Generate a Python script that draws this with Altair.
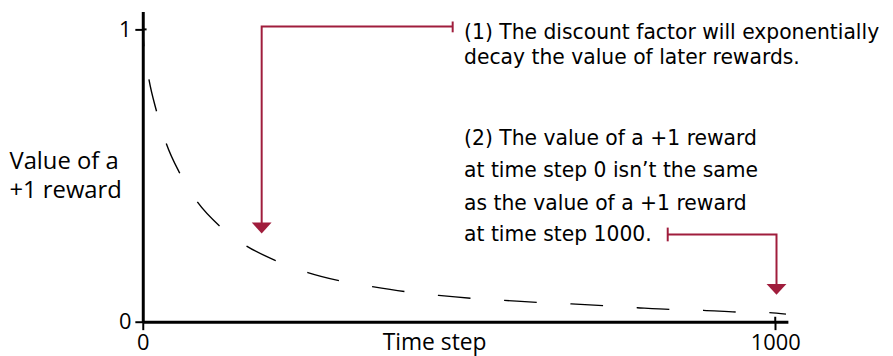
import altair as alt
import pandas as pd

# ---- data ----
time_steps = [0, 1.6, 9.9, 21.9, 37.1, 59, 86.6, 121.7, 164.9, 210.3, 261, 311, 363,
              414.6, 467.8, 519.5, 572, 624.4, 677.7, 728.7, 782, 834, 886.5, 938.6, 991, 1017]
values = [1.0, 0.943, 0.827, 0.719, 0.610, 0.506, 0.409, 0.327, 0.258, 0.209, 0.168, 0.140, 0.120,
          0.103, 0.090, 0.080, 0.073, 0.066, 0.061, 0.055, 0.048, 0.042, 0.039, 0.033, 0.031, 0.026]

x_ticks = [0, 1000]
y_ticks = [0, 1]
x_title = "Time step"
y_title = ["Value of a", "+1 reward"]

note1 = ["(1) The discount factor will exponentially", "decay the value of later rewards."]
note2 = ["(2) The value of a +1 reward", "at time step 0 isn\u2019t the same",
         "as the value of a +1 reward", "at time step 1000."]

RED = "#a01d3c"
FONT = "Open Sans"
NOTE_FONT = "DejaVu Sans"

# ---- tables ----
curve = pd.DataFrame({"t": time_steps, "v": values})

arrows = pd.DataFrame({
    "seg": ["a1", "a1", "a1", "a2", "a2", "a2"],
    "ord": [0, 1, 2, 0, 1, 2],
    "t": [490, 188, 188, 830, 1002, 1002],
    "v": [1.010, 1.010, 0.33, 0.298, 0.298, 0.11],
})
caps = pd.DataFrame({"t": [490, 830], "v": [0.990, 0.275], "v2": [1.027, 0.322]})
heads = pd.DataFrame({"t": [188, 1002], "v": [0.302, 0.092]})
cross = pd.DataFrame({"t": [0, 1000], "v": [1, 0], "t2": [6, 1000], "v2": [1, 0.017]})

text_rows = pd.DataFrame({
    "t": [508] * 6,
    "v": [0.966, 0.881, 0.603, 0.495, 0.383, 0.275],
    "txt": note1 + note2,
})

xscale = alt.Scale(domain=[0, 1020], nice=False, zero=False)
yscale = alt.Scale(domain=[0, 1.061], nice=False, zero=False)

xaxis = alt.Axis(values=x_ticks, format="d", title=x_title, grid=False,
                 domainColor="black", domainWidth=3, tickColor="black", tickWidth=2, tickSize=8,
                 labelFont=FONT, labelFontSize=22, labelColor="black", labelPadding=3,
                 labelFlush=False, titleFont=FONT, titleFontSize=23, titleFontWeight="normal",
                 titleColor="black", titleX=294, titleY=28, titleBaseline="alphabetic",
                 titleAlign="center")
yaxis = alt.Axis(values=y_ticks, format="d", title=y_title, grid=False,
                 domainColor="black", domainWidth=3, tickColor="black", tickWidth=2, tickSize=8,
                 labelFont=FONT, labelFontSize=22, labelColor="black", labelPadding=4,
                 labelFlush=False, titleFont=FONT, titleFontSize=24, titleFontWeight="normal",
                 titleColor="black", titleAngle=0, titleAlign="left", titleBaseline="alphabetic",
                 titleX=-135, titleY=158, titleLineHeight=30)


def X(field="t"):
    return alt.X(f"{field}:Q", scale=xscale, axis=xaxis)


def Y(field="v"):
    return alt.Y(f"{field}:Q", scale=yscale, axis=yaxis)


line = alt.Chart(curve).mark_line(
    color="black", strokeWidth=1.4, strokeDash=[33, 34], strokeDashOffset=16,
    interpolate="monotone"
).encode(x=X(), y=Y())

arrow_lines = alt.Chart(arrows).mark_line(color=RED, strokeWidth=2, strokeCap="butt").encode(
    x=X(), y=Y(), detail="seg:N", order="ord:Q")

arrow_caps = alt.Chart(caps).mark_rule(color=RED, strokeWidth=2).encode(
    x=X(), y=Y(), y2=alt.Y2("v2:Q"))

arrow_heads = alt.Chart(heads).mark_point(
    shape="M-1,-1.1L1,-1.1L0,0Z", size=400, filled=True, color=RED, opacity=1, strokeWidth=0
).encode(x=X(), y=Y())

axis_cross = alt.Chart(cross).mark_rule(color="black", strokeWidth=2).encode(
    x=X(), x2=alt.X2("t2:Q"), y=Y(), y2=alt.Y2("v2:Q"))

notes = alt.Chart(text_rows).mark_text(
    align="left", baseline="alphabetic", font=NOTE_FONT, fontSize=20.5, color="black"
).encode(x=X(), y=Y(), text="txt:N")

chart = alt.layer(line, arrow_lines, arrow_caps, arrow_heads, axis_cross, notes).properties(
    width=651, height=313,
    autosize="none",
    background="white",
    padding={"left": 136, "top": 2, "right": 98, "bottom": 33},
).configure_view(stroke=None)

chart.save("out.html", embed_options={"renderer": "svg", "actions": False})
